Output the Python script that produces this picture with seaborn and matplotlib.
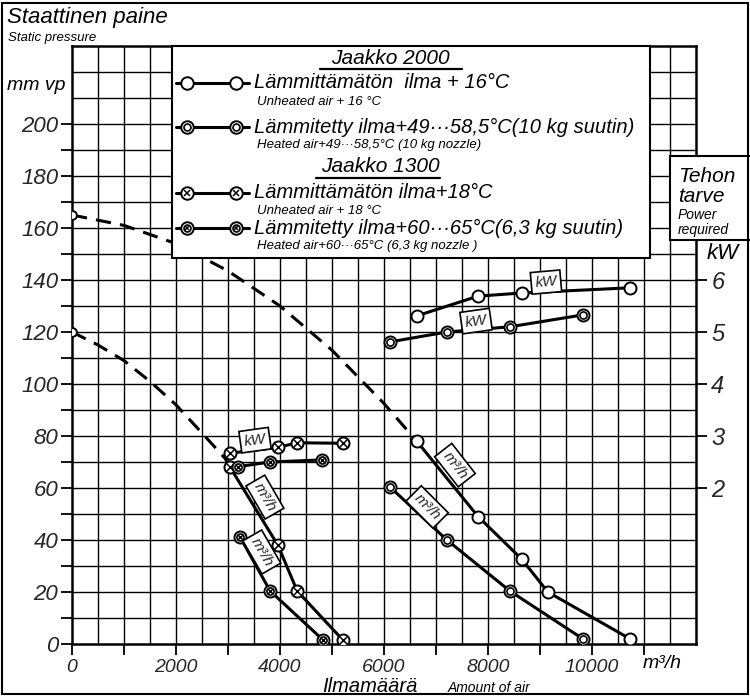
import matplotlib
matplotlib.use("Agg")
import matplotlib.pyplot as plt
import seaborn as sns
import numpy as np
from matplotlib.patches import Rectangle
from matplotlib.lines import Line2D

# --- data (air flow m3/h, static pressure mm vp, power kW) ---
# Jaakko 2000, unheated air +16 C
j2000_cold_flow = [6630, 7810, 8650, 9150, 10730]
j2000_cold_press = [78, 49, 32.6, 20, 2]
j2000_cold_dash_flow = [0, 1000, 2000, 3000, 4000, 5000, 6000, 6630]
j2000_cold_dash_press = [165, 161, 154, 143.5, 130, 113, 92.5, 78]
j2000_cold_kw_flow = [6630, 7810, 8650, 10730]
j2000_cold_kw = [5.31, 5.69, 5.75, 5.85]

# Jaakko 2000, heated air +49...58.5 C
j2000_hot_flow = [6115, 7210, 8420, 9830]
j2000_hot_press = [60.4, 40, 20.4, 1.9]
j2000_hot_kw = [4.81, 5.0, 5.1, 5.33]

# Jaakko 1300, unheated air +18 C
j1300_cold_flow = [3040, 3960, 4330, 5210]
j1300_cold_press = [68, 38, 20.4, 1.5]
j1300_cold_dash_flow = [0, 500, 1000, 1500, 2000, 2460, 2940, 3040]
j1300_cold_dash_press = [120, 115, 109, 101, 92, 82, 71.5, 68]
j1300_cold_kw_flow = [3040, 3960, 4330, 5220]
j1300_cold_kw = [2.67, 2.78, 2.87, 2.86]

# Jaakko 1300, heated air +60...65 C
j1300_hot_flow = [3230, 3810, 4830]
j1300_hot_press = [41.2, 20.4, 1.5]
j1300_hot_kw_flow = [3190, 3810, 4810]
j1300_hot_kw = [2.41, 2.5, 2.54]

x_ticks = [0, 2000, 4000, 6000, 8000, 10000]
y_ticks = list(range(0, 201, 20))
kw_ticks = [2, 3, 4, 5, 6]

W, H = 750, 697
FONT = ["Liberation Sans Narrow", "Liberation Sans", "DejaVu Sans"]

sns.set_theme(style="white")
plt.rcParams["font.family"] = FONT
plt.rcParams["font.style"] = "italic"


def px(x, y):
    return x / W, 1 - y / H


def ftext(fig, x, y, s, size, **kw):
    fx, fy = px(x, y)
    kw.setdefault("va", "center")
    kw.setdefault("ha", "left")
    fig.text(fx, fy, s, fontsize=size, style="italic", color="black", **kw)


def fline(fig, x0, x1, y, lw=1.6):
    (a, b), (c, d) = px(x0, y), px(x1, y)
    fig.add_artist(Line2D([a, c], [b, d], color="black", lw=lw,
                          transform=fig.transFigure, zorder=12))


def points(ax, x, y, kind, s=75):
    sns.scatterplot(x=x, y=y, ax=ax, marker="o", s=s, color="white",
                    edgecolor="black", linewidth=1.4, zorder=6, legend=False)
    if kind in ("dot", "ringcross"):
        sns.scatterplot(x=x, y=y, ax=ax, marker="o", s=s * 0.35, color="white",
                        edgecolor="black", linewidth=1.2, zorder=7, legend=False)
    if kind in ("cross", "ringcross"):
        sns.scatterplot(x=x, y=y, ax=ax, marker="x", s=s * (0.45 if kind == "cross" else 0.2),
                        color="black", linewidth=1.1, zorder=8, legend=False)


def curve(ax, x, y, dashed=False):
    sns.lineplot(x=x, y=y, ax=ax, color="black", lw=2.2, sort=False, estimator=None,
                 linestyle=(0, (5, 3)) if dashed else "-", zorder=4)


def tag(ax, x, y, s, rot):
    ax.text(x, y, s, fontsize=11, style="italic", rotation=rot, ha="center", va="center",
            rotation_mode="anchor", zorder=9,
            bbox=dict(boxstyle="square,pad=0.25", fc="white", ec="black", lw=1.2))


fig = plt.figure(figsize=(W / 100, H / 100), dpi=100)
left, bottom = px(72, 644)
right, top = px(696, 46)
ax = fig.add_axes([left, bottom, right - left, top - bottom])
ax.set_xlim(0, 12000)
ax.set_ylim(0, 230)

# grid
ax.vlines(np.arange(500, 12000, 500), 0, 230, colors="black", lw=1.0, zorder=1)
ax.hlines(np.arange(10, 230, 10), 0, 12000, colors="black", lw=1.0, zorder=1)

for sp in ax.spines.values():
    sp.set_color("black")
    sp.set_linewidth(1.8)

ax.set_xticks(x_ticks)
ax.set_xticklabels([str(v) for v in x_ticks])
ax.set_xticks(np.arange(1000, 12000, 2000), minor=True)
ax.set_yticks(y_ticks)
ax.set_yticks(np.arange(10, 200, 20), minor=True)
ax.tick_params(axis="both", which="both", direction="out", length=8, width=1.3,
               color="black", bottom=True, left=True)
ax.tick_params(axis="x", labelsize=14, pad=3)
ax.tick_params(axis="y", labelsize=16, pad=2)
for lab in ax.get_xticklabels() + ax.get_yticklabels():
    lab.set_style("italic")

# power axis on the right
ax_kw = ax.twinx()
ax_kw.set_ylim(-1, 10.5)
ax_kw.set_yticks(kw_ticks)
ax_kw.set_yticklabels([str(v) for v in kw_ticks])
ax_kw.tick_params(axis="y", direction="out", length=8, width=1.3, color="black",
                  labelsize=17, pad=3, right=True)
for lab in ax_kw.get_yticklabels():
    lab.set_style("italic")
for sp in ax_kw.spines.values():
    sp.set_visible(False)

# pressure curves
curve(ax, j2000_cold_dash_flow, j2000_cold_dash_press, dashed=True)
curve(ax, j1300_cold_dash_flow, j1300_cold_dash_press, dashed=True)
curve(ax, j2000_cold_flow, j2000_cold_press)
curve(ax, j2000_hot_flow, j2000_hot_press)
curve(ax, j1300_cold_flow, j1300_cold_press)
curve(ax, j1300_hot_flow, j1300_hot_press)
points(ax, [0], [165], "open", s=40)
points(ax, [0], [120], "open", s=40)
points(ax, j2000_cold_flow, j2000_cold_press, "open")
points(ax, j2000_hot_flow, j2000_hot_press, "dot")
points(ax, j1300_cold_flow, j1300_cold_press, "cross")
points(ax, j1300_hot_flow, j1300_hot_press, "ringcross")

# power curves
curve(ax_kw, j2000_cold_kw_flow, j2000_cold_kw)
curve(ax_kw, j2000_hot_flow, j2000_hot_kw)
curve(ax_kw, j1300_cold_kw_flow, j1300_cold_kw)
curve(ax_kw, j1300_hot_kw_flow, j1300_hot_kw)
points(ax_kw, j2000_cold_kw_flow, j2000_cold_kw, "open")
points(ax_kw, j2000_hot_flow, j2000_hot_kw, "dot")
points(ax_kw, j1300_cold_kw_flow, j1300_cold_kw, "cross")
points(ax_kw, j1300_hot_kw_flow, j1300_hot_kw, "ringcross")

# curve tags
tag(ax, 7365, 68.8, "m³/h", -52)
tag(ax, 6830, 52.7, "m³/h", -45)
tag(ax, 3710, 56.5, "m³/h", -60)
tag(ax, 3650, 35.4, "m³/h", -60)
tag(ax_kw, 9115, 5.96, "kW", 5)
tag(ax_kw, 7770, 5.21, "kW", 8)
tag(ax_kw, 3520, 2.92, "kW", 8)

# titles and axis names
ftext(fig, 7, 18, "Staattinen paine", 16)
ftext(fig, 8, 38, "Static pressure", 9.5)
ftext(fig, 7, 86, "mm vp", 14)
ftext(fig, 370, 686, "Ilmamäärä", 14.5, ha="center")
ftext(fig, 448, 688, "Amount of air", 10)
ftext(fig, 643, 664, "m³/h", 14)

# legend box
lx, ly = px(172, 258)
rx, ry = px(650, 46)
fig.add_artist(Rectangle((lx, ly), rx - lx, ry - ly, transform=fig.transFigure,
                         fc="white", ec="black", lw=1.5, zorder=10))
ftext(fig, 390, 58, "Jaakko 2000", 15, ha="center", zorder=12)
fline(fig, 320, 462, 69)
ftext(fig, 380, 167, "Jaakko 1300", 15, ha="center", zorder=12)
fline(fig, 316, 440, 178)

legend_rows = [
    (83, "open", "Lämmittämätön  ilma + 16°C", 102, "Unheated air + 16 °C"),
    (127, "dot", "Lämmitetty ilma+49···58,5°C(10 kg suutin)", 145,
     "Heated air+49···58,5°C (10 kg nozzle)"),
    (193, "cross", "Lämmittämätön ilma+18°C", 211, "Unheated air + 18 °C"),
    (228, "ringcross", "Lämmitetty ilma+60···65°C(6,3 kg suutin)", 246,
     "Heated air+60···65°C (6,3 kg nozzle )"),
]
for y, kind, main, ys, sub in legend_rows:
    fline(fig, 176, 249, y, lw=2.2)
    for mx in (187, 236):
        fx, fy = px(mx, y)
        fig.add_artist(Line2D([fx], [fy], marker="o", ms=9, mfc="white", mec="black",
                              mew=1.4, transform=fig.transFigure, zorder=13))
        if kind in ("dot", "ringcross"):
            fig.add_artist(Line2D([fx], [fy], marker="o", ms=5, mfc="white", mec="black",
                                  mew=1.2, transform=fig.transFigure, zorder=14))
        if kind in ("cross", "ringcross"):
            fig.add_artist(Line2D([fx], [fy], marker="x", ms=5 if kind == "cross" else 3,
                                  color="black", mew=1.1, transform=fig.transFigure,
                                  zorder=15))
    ftext(fig, 254, y, main, 14.5, zorder=12)
    ftext(fig, 257, ys, sub, 9.5, zorder=12)

# power axis name box
bx, by = px(670, 240)
tx, ty = px(760, 156)
fig.add_artist(Rectangle((bx, by), tx - bx, ty - by, transform=fig.transFigure,
                         fc="white", ec="black", lw=1.5, zorder=10))
ftext(fig, 678, 176, "Tehon", 15, zorder=12)
ftext(fig, 678, 196, "tarve", 15, zorder=12)
ftext(fig, 678, 215, "Power", 10, zorder=12)
ftext(fig, 678, 230, "required", 10, zorder=12)
ftext(fig, 707, 253, "kW", 16, zorder=12)

# outer frame
fig.add_artist(Rectangle(px(2, 694), 746 / W, 691 / H, transform=fig.transFigure,
                         fill=False, ec="black", lw=1.5, zorder=20))

fig.savefig("out.png", dpi=100, facecolor="white")
